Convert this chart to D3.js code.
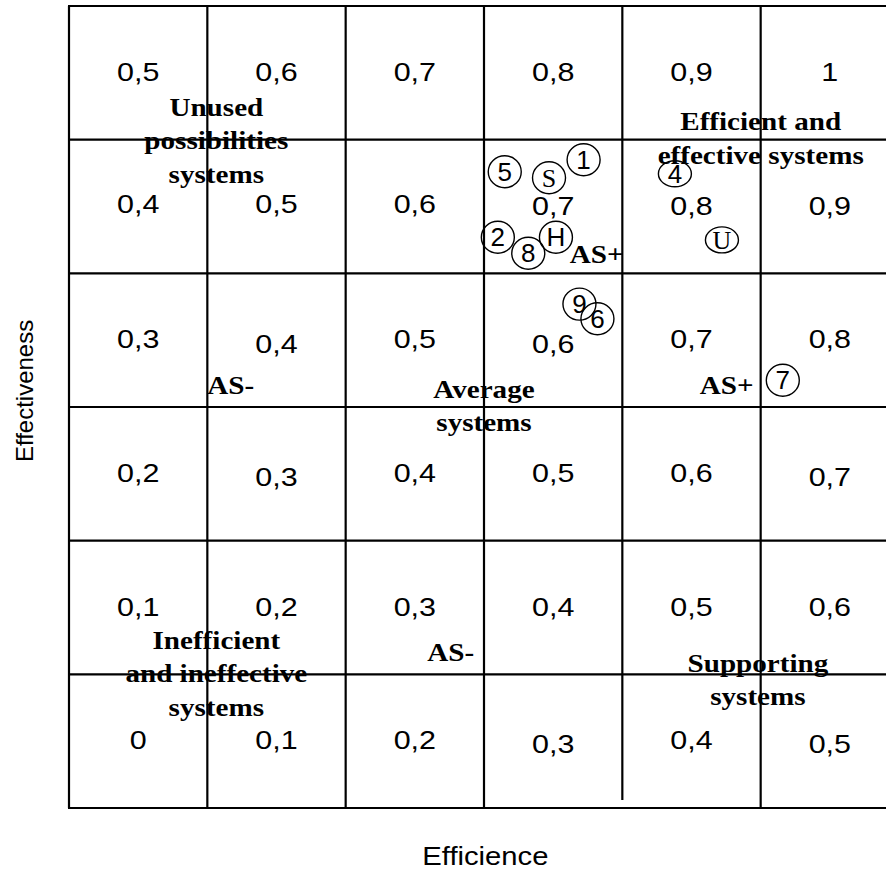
<!DOCTYPE html>
<html>
<head>
<meta charset="utf-8">
<script src="https://cdn.jsdelivr.net/npm/d3@7"></script>
<style>
  html, body { margin: 0; padding: 0; background: #fff; }
  svg { display: block; }
</style>
</head>
<body>
<svg id="chart" width="886" height="872"></svg>
<script>
// ---------- DATA ----------
// efficiency levels (columns) and effectiveness levels (rows), grid 6 x 6
const efficiencyLevels = [0, 1, 2, 3, 4, 5];
const effectivenessLevels = [0, 1, 2, 3, 4, 5];
// cell values, bottom row (effectiveness 0) to top row (effectiveness 5)
const cellRow0 = ["0", "0,1", "0,2", "0,3", "0,4", "0,5"];
const cellRow1 = ["0,1", "0,2", "0,3", "0,4", "0,5", "0,6"];
const cellRow2 = ["0,2", "0,3", "0,4", "0,5", "0,6", "0,7"];
const cellRow3 = ["0,3", "0,4", "0,5", "0,6", "0,7", "0,8"];
const cellRow4 = ["0,4", "0,5", "0,6", "0,7", "0,8", "0,9"];
const cellRow5 = ["0,5", "0,6", "0,7", "0,8", "0,9", "1"];
const cellRows = [cellRow0, cellRow1, cellRow2, cellRow3, cellRow4, cellRow5];

// assessed systems (grid units: efficiency, effectiveness)
const systemNames = ["5", "S", "1", "2", "8", "H", "9", "6", "4", "U", "7"];
const systemEfficiency = [3.15, 3.47, 3.72, 3.10, 3.32, 3.52, 3.69, 3.82, 4.38, 4.72, 5.16];
const systemEffectiveness = [4.76, 4.715, 4.85, 4.27, 4.15, 4.27, 3.77, 3.66, 4.745, 4.25, 3.20];

// zone labels
const zoneLines = [
  ["Unused", "possibilities", "systems"],
  ["Efficient and", "effective systems"],
  ["Inefficient", "and ineffective", "systems"],
  ["Supporting", "systems"],
  ["Average", "systems"]
];
const zoneX = [1.065, 5.0, 1.065, 4.98, 3.0];
const zoneY = [5.18, 5.07, 1.19, 1.02, 3.07];
const boundaryLabels = ["AS-", "AS-", "AS+", "AS+"];
const boundaryX = [1.0, 2.59, 3.62, 4.56];
const boundaryY = [3.1, 1.1, 4.08, 3.1];

const xTitle = "Efficience";
const yTitle = "Effectiveness";

// ---------- LAYOUT ----------
const svg = d3.select("#chart");
const x = d3.scaleLinear().domain([0, 6]).range([69, 899]);
const y = d3.scaleLinear().domain([0, 6]).range([808, 6]);
const sans = "'Liberation Sans', Arial, sans-serif";
const serif = "'Liberation Serif', 'Times New Roman', serif";

// grid lines
const g = svg.append("g");
g.selectAll("line.v").data(d3.range(0, 7)).join("line")
  .attr("x1", d => x(d)).attr("x2", d => x(d))
  .attr("y1", y(6)).attr("y2", d => d === 4 ? y(0.06) : y(0))
  .attr("stroke", "#000").attr("stroke-width", 2.2);
g.selectAll("line.h").data(d3.range(0, 7)).join("line")
  .attr("x1", x(0) - 1).attr("x2", x(6))
  .attr("y1", d => y(d)).attr("y2", d => y(d))
  .attr("stroke", "#000").attr("stroke-width", 2.2);

// cell value labels
const cells = [];
effectivenessLevels.forEach(r => efficiencyLevels.forEach(c => {
  cells.push({ c, r, label: cellRows[r][c] });
}));
const nudge = { "3-1": 5, "3-3": 5, "2-1": 4, "2-5": 4, "0-3": 4, "0-5": 4, "4-0": -2, "4-1": -2, "4-2": -2 };
svg.append("g").selectAll("text").data(cells).join("text")
  .attr("transform", d => `translate(${x(d.c + 0.5)},${y(d.r + 0.5) + 8 + (nudge[d.r + "-" + d.c] || 0)}) scale(1.22,1)`)
  .attr("text-anchor", "middle")
  .style("font-family", sans).style("font-size", "25px")
  .text(d => d.label);

// zone labels
zoneLines.forEach((lines, i) => {
  svg.append("text")
    .attr("transform", `translate(${x(zoneX[i])},${y(zoneY[i])}) scale(1.12,1)`)
    .attr("text-anchor", "middle")
    .style("font-family", serif).style("font-size", "26px").style("font-weight", "bold")
    .selectAll("tspan").data(lines).join("tspan")
    .attr("x", 0).attr("dy", (d, j) => j === 0 ? 0 : 33.5)
    .text(d => d);
});

// AS boundary labels
svg.append("g").selectAll("text").data(boundaryLabels).join("text")
  .attr("transform", (d, i) => `translate(${x(boundaryX[i])},${y(boundaryY[i])}) scale(1.12,1)`)
  .style("font-family", serif).style("font-size", "26px").style("font-weight", "bold")
  .text(d => d);

// systems
const sys = systemNames.map((n, i) => ({ n, ex: systemEfficiency[i], ef: systemEffectiveness[i] }));
const flat = { "4": 13, "U": 13 };
const sg = svg.append("g").selectAll("g").data(sys).join("g")
  .attr("transform", d => `translate(${x(d.ex)},${y(d.ef)})`);
sg.append("ellipse")
  .attr("rx", 16.5).attr("ry", d => flat[d.n] || 16)
  .attr("fill", "none").attr("stroke", "#000").attr("stroke-width", 1.4);
sg.append("text")
  .attr("text-anchor", "middle").attr("y", 9)
  .style("font-family", d => (d.n === "S" || d.n === "U") ? serif : sans)
  .style("font-size", "26px")
  .text(d => d.n);

// axis titles
svg.append("text")
  .attr("transform", `translate(${x(3.01)},865) scale(1.17,1)`)
  .attr("text-anchor", "middle")
  .style("font-family", sans).style("font-size", "25px")
  .text(xTitle);
svg.append("text")
  .attr("transform", `translate(33,${y(3.12)}) rotate(-90)`)
  .attr("text-anchor", "middle")
  .style("font-family", sans).style("font-size", "24px")
  .text(yTitle);
</script>
</body>
</html>
